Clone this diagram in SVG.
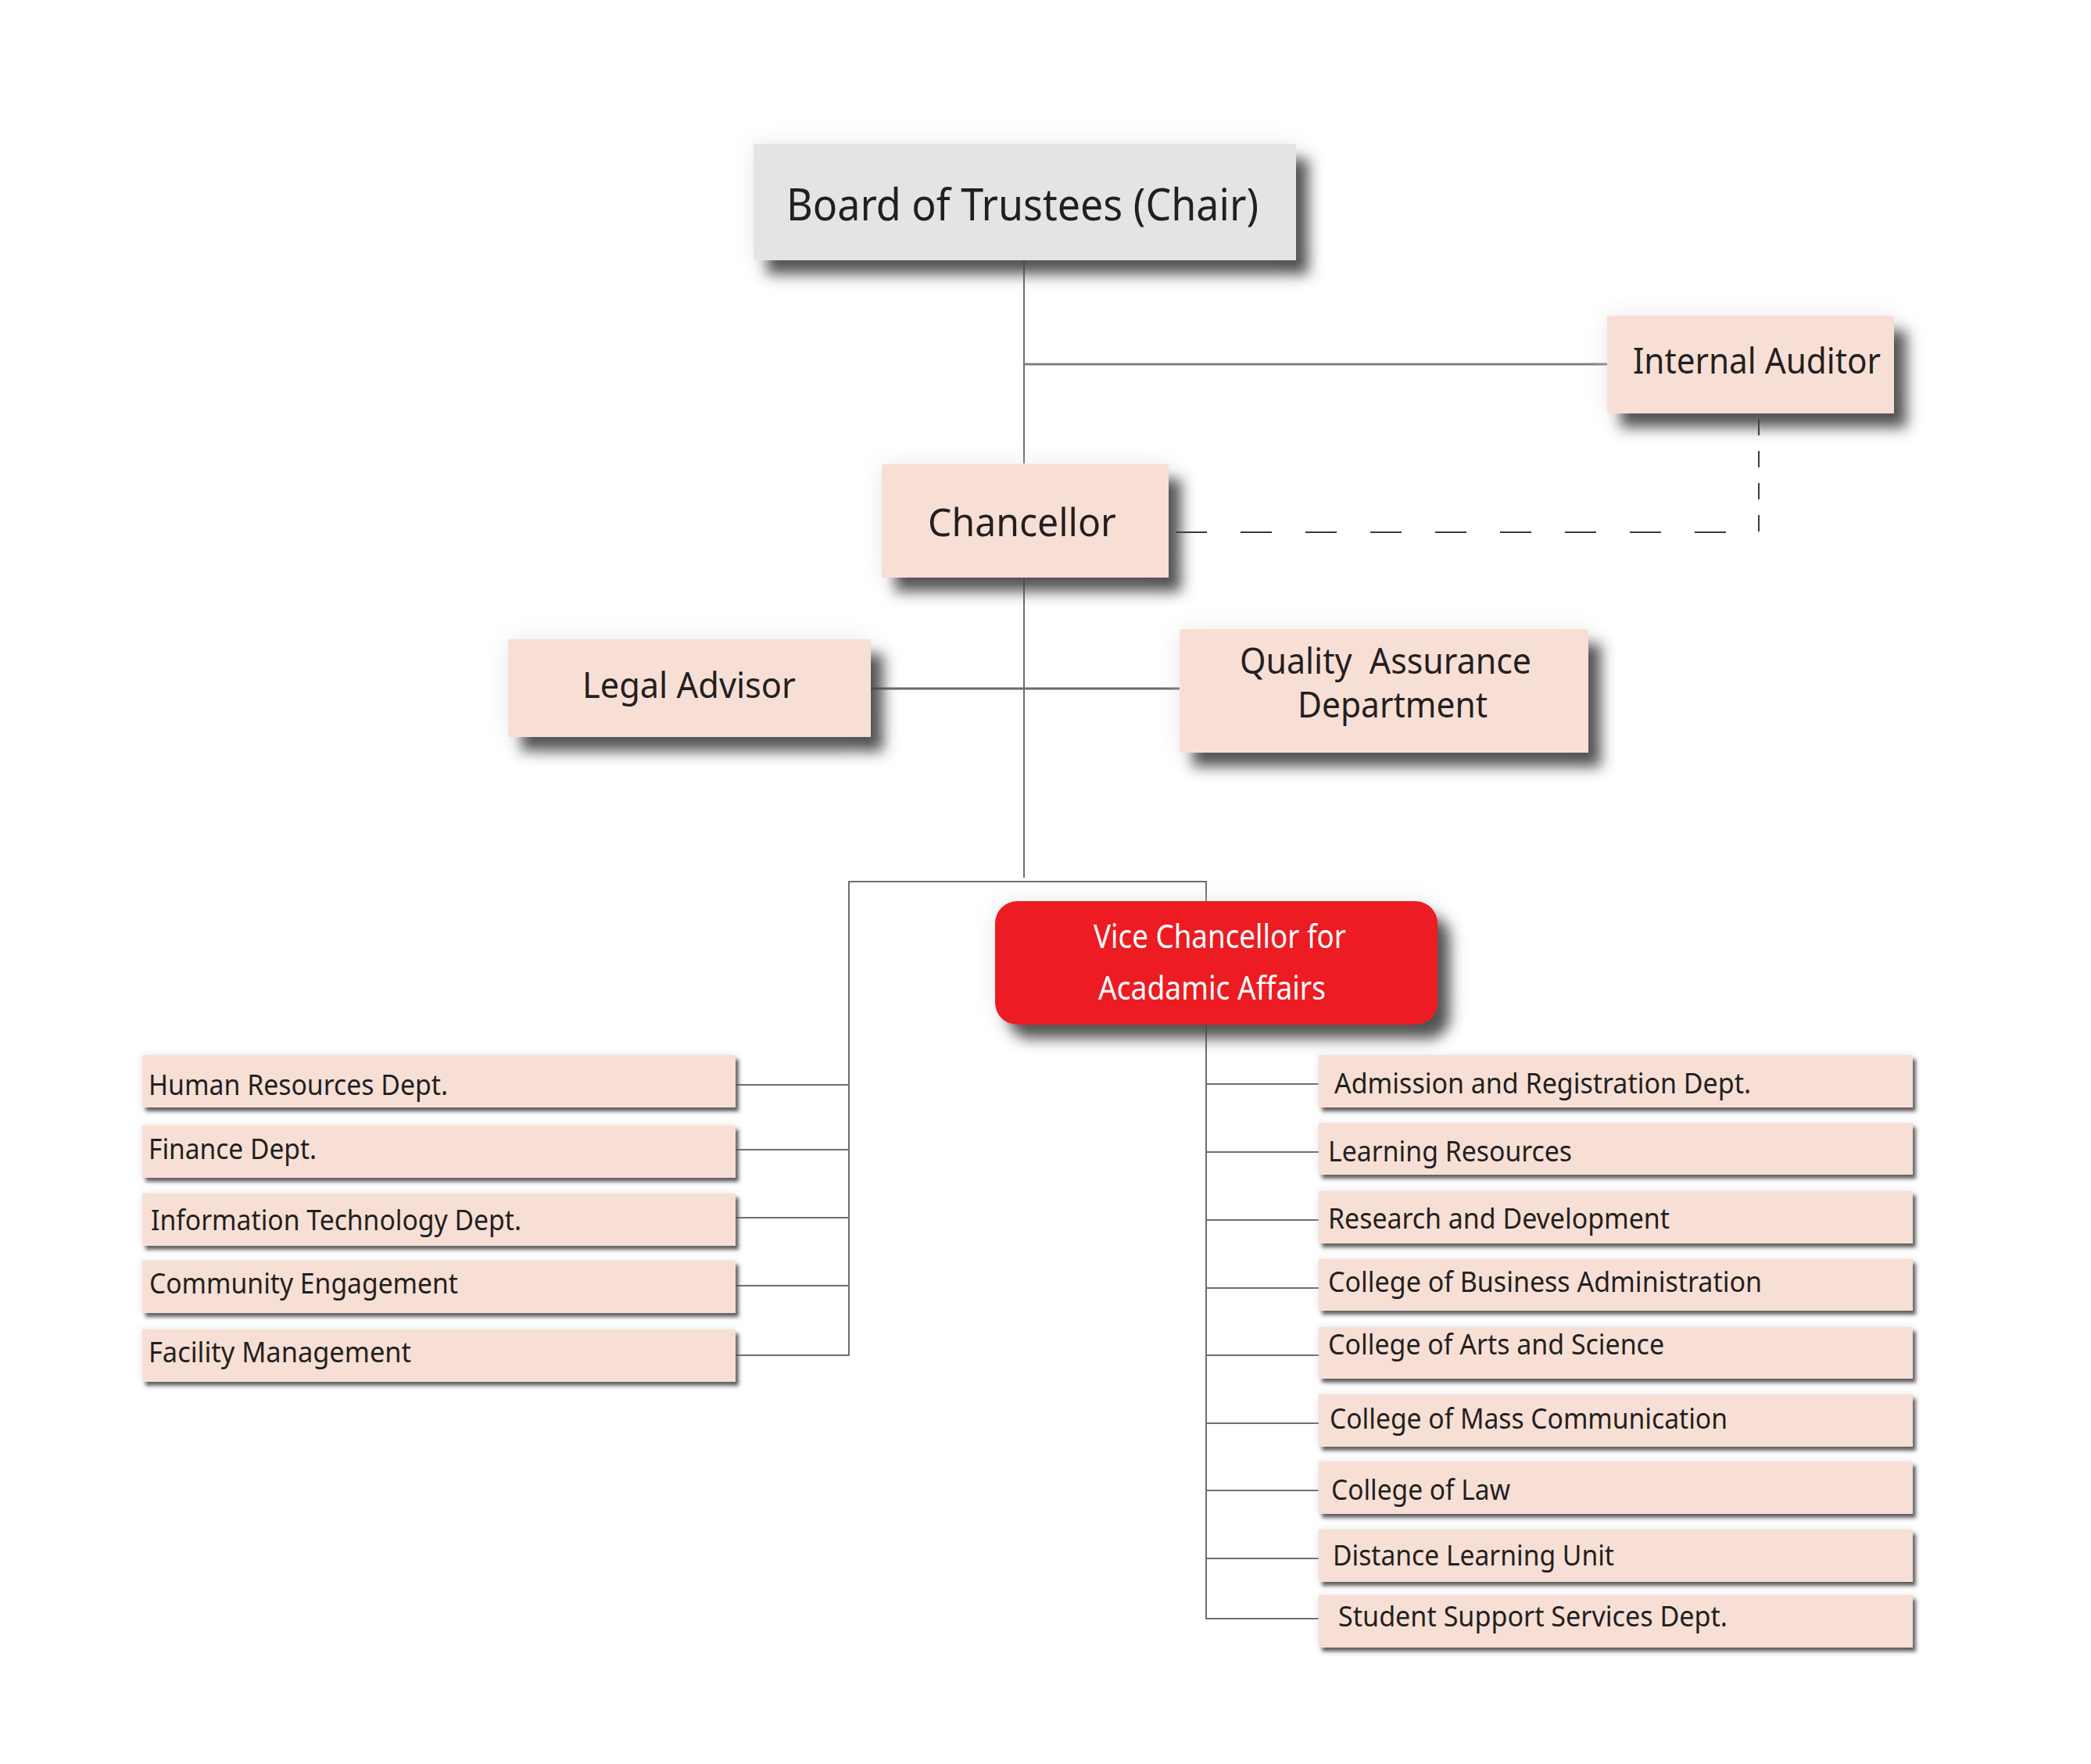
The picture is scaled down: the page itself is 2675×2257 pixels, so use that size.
<svg xmlns="http://www.w3.org/2000/svg" width="2675" height="2257" viewBox="0 0 2675 2257">
<style>
  text { font-family: "Noto Sans", "Open Sans", sans-serif; fill: #231f20; }
  .big { fill: #f8dfd6; filter: url(#bigShadow); }
  .small { fill: #f8dfd6; filter: url(#smallShadow); }
  .st { font-size: 37px; }
  .conn { stroke: #6d6d6d; stroke-width: 2; fill: none; }
  .dash { stroke: #3a3a3a; stroke-width: 2; fill: none; }
</style>
<defs>
  <filter id="bigShadow" x="-10%" y="-25%" width="135%" height="170%">
    <feGaussianBlur in="SourceAlpha" stdDeviation="9" result="b"/>
    <feOffset in="b" dx="16" dy="18" result="o"/>
    <feFlood flood-color="#3c3c3c" flood-opacity="0.9"/>
    <feComposite in2="o" operator="in" result="s"/>
    <feGaussianBlur in="SourceAlpha" stdDeviation="14" result="h"/>
    <feFlood flood-color="#cfcfcf" flood-opacity="0.45"/>
    <feComposite in2="h" operator="in" result="hs"/>
    <feMerge><feMergeNode in="hs"/><feMergeNode in="s"/><feMergeNode in="SourceGraphic"/></feMerge>
  </filter>
  <filter id="smallShadow" x="-5%" y="-30%" width="110%" height="170%">
    <feGaussianBlur in="SourceAlpha" stdDeviation="2.5" result="b"/>
    <feOffset in="b" dx="4" dy="5" result="o"/>
    <feFlood flood-color="#3c3c3c" flood-opacity="0.85"/>
    <feComposite in2="o" operator="in" result="s"/>
    <feGaussianBlur in="SourceAlpha" stdDeviation="5" result="h"/>
    <feFlood flood-color="#c8c8c8" flood-opacity="0.5"/>
    <feComposite in2="h" operator="in" result="hs"/>
    <feMerge><feMergeNode in="hs"/><feMergeNode in="s"/><feMergeNode in="SourceGraphic"/></feMerge>
  </filter>
</defs>
<rect width="2675" height="2257" fill="#ffffff"/>

<g id="connectors">
  <line class="conn" x1="1310" y1="333" x2="1310" y2="593"/>
  <line x1="1310" y1="466" x2="2056" y2="466" stroke="#808080" stroke-width="3"/>
  <line class="conn" x1="1310" y1="739" x2="1310" y2="1123"/>
  <line x1="1114" y1="881" x2="1509" y2="881" stroke="#6a6a6a" stroke-width="3"/>
  <line class="dash" x1="1504" y1="681" x2="2212" y2="681" stroke-dasharray="40 43"/>
  <line class="dash" x1="2250" y1="536" x2="2250" y2="680" stroke-dasharray="21 20"/>
  <polyline class="conn" points="1086,1734 1086,1128 1543,1128 1543,2072" stroke-width="2.5"/>
  <line class="conn" x1="941" y1="1388" x2="1086" y2="1388"/>
  <line class="conn" x1="941" y1="1471" x2="1086" y2="1471"/>
  <line class="conn" x1="941" y1="1558" x2="1086" y2="1558"/>
  <line class="conn" x1="941" y1="1645" x2="1086" y2="1645"/>
  <line class="conn" x1="941" y1="1734" x2="1087" y2="1734"/>
  <line class="conn" x1="1543" y1="1387" x2="1687" y2="1387"/>
  <line class="conn" x1="1543" y1="1474" x2="1687" y2="1474"/>
  <line class="conn" x1="1543" y1="1561" x2="1687" y2="1561"/>
  <line class="conn" x1="1543" y1="1648" x2="1687" y2="1648"/>
  <line class="conn" x1="1543" y1="1734" x2="1687" y2="1734"/>
  <line class="conn" x1="1543" y1="1821" x2="1687" y2="1821"/>
  <line class="conn" x1="1543" y1="1907" x2="1687" y2="1907"/>
  <line class="conn" x1="1543" y1="1994" x2="1687" y2="1994"/>
  <line class="conn" x1="1542" y1="2071" x2="1687" y2="2071"/>
</g>

<g id="board">
  <rect x="964" y="184" width="694" height="149" fill="#e3e4e6" filter="url(#bigShadow)"/>
  <text x="1006" y="282" font-size="56" textLength="604" lengthAdjust="spacingAndGlyphs">Board of Trustees (Chair)</text>
</g>
<g id="internal-auditor">
  <rect class="big" x="2056" y="404" width="367" height="125"/>
  <text x="2089" y="478" font-size="46" textLength="317" lengthAdjust="spacingAndGlyphs">Internal Auditor</text>
</g>
<g id="chancellor">
  <rect class="big" x="1128" y="594" width="367" height="145"/>
  <text x="1187" y="686" font-size="49" textLength="241" lengthAdjust="spacingAndGlyphs">Chancellor</text>
</g>
<g id="legal-advisor">
  <rect class="big" x="650" y="818" width="464" height="125"/>
  <text x="745" y="893" font-size="45" textLength="273" lengthAdjust="spacingAndGlyphs">Legal Advisor</text>
</g>
<g id="quality-assurance">
  <rect class="big" x="1509" y="805" width="523" height="158"/>
  <text x="1586" y="862" font-size="46" textLength="373" lengthAdjust="spacingAndGlyphs" xml:space="preserve">Quality  Assurance</text>
  <text x="1660" y="918" font-size="46" textLength="243" lengthAdjust="spacingAndGlyphs">Department</text>
</g>
<g id="vice-chancellor">
  <rect x="1273" y="1153" width="566" height="158" rx="28" ry="28" fill="#ec1c24" filter="url(#bigShadow)"/>
  <text x="1399" y="1213" font-size="42" textLength="323" lengthAdjust="spacingAndGlyphs" style="fill:#ffffff">Vice Chancellor for</text>
  <text x="1405" y="1279" font-size="42" textLength="291" lengthAdjust="spacingAndGlyphs" style="fill:#ffffff">Acadamic Affairs</text>
</g>

<g id="hr"><rect class="small" x="182" y="1350" width="759" height="67"/>
  <text class="st" x="190" y="1401" textLength="383" lengthAdjust="spacingAndGlyphs">Human Resources Dept.</text></g>
<g id="finance"><rect class="small" x="182" y="1440" width="759" height="67"/>
  <text class="st" x="190" y="1483" textLength="215" lengthAdjust="spacingAndGlyphs">Finance Dept.</text></g>
<g id="it"><rect class="small" x="182" y="1527" width="759" height="67"/>
  <text class="st" x="193" y="1574" textLength="474" lengthAdjust="spacingAndGlyphs">Information Technology Dept.</text></g>
<g id="community"><rect class="small" x="182" y="1613" width="759" height="67"/>
  <text class="st" x="191" y="1655" textLength="395" lengthAdjust="spacingAndGlyphs">Community Engagement</text></g>
<g id="facility"><rect class="small" x="182" y="1701" width="759" height="67"/>
  <text class="st" x="190" y="1743" textLength="336" lengthAdjust="spacingAndGlyphs">Facility Management</text></g>

<g id="admission"><rect class="small" x="1687" y="1350" width="760" height="67"/>
  <text class="st" x="1707" y="1399" textLength="533" lengthAdjust="spacingAndGlyphs">Admission and Registration Dept.</text></g>
<g id="learning"><rect class="small" x="1687" y="1437" width="760" height="66"/>
  <text class="st" x="1699" y="1486" textLength="312" lengthAdjust="spacingAndGlyphs">Learning Resources</text></g>
<g id="research"><rect class="small" x="1687" y="1524" width="760" height="67"/>
  <text class="st" x="1699" y="1572" textLength="437" lengthAdjust="spacingAndGlyphs">Research and Development</text></g>
<g id="business"><rect class="small" x="1687" y="1611" width="760" height="66"/>
  <text class="st" x="1699" y="1653" textLength="555" lengthAdjust="spacingAndGlyphs">College of Business Administration</text></g>
<g id="arts"><rect class="small" x="1687" y="1698" width="760" height="66"/>
  <text class="st" x="1699" y="1733" textLength="430" lengthAdjust="spacingAndGlyphs">College of Arts and Science</text></g>
<g id="mass"><rect class="small" x="1687" y="1784" width="760" height="67"/>
  <text class="st" x="1701" y="1828" textLength="509" lengthAdjust="spacingAndGlyphs">College of Mass Communication</text></g>
<g id="law"><rect class="small" x="1687" y="1870" width="760" height="67"/>
  <text class="st" x="1703" y="1919" textLength="229" lengthAdjust="spacingAndGlyphs">College of Law</text></g>
<g id="distance"><rect class="small" x="1687" y="1957" width="760" height="67"/>
  <text class="st" x="1705" y="2003" textLength="360" lengthAdjust="spacingAndGlyphs">Distance Learning Unit</text></g>
<g id="student"><rect class="small" x="1687" y="2041" width="760" height="67"/>
  <text class="st" x="1712" y="2081" textLength="498" lengthAdjust="spacingAndGlyphs">Student Support Services Dept.</text></g>
</svg>
